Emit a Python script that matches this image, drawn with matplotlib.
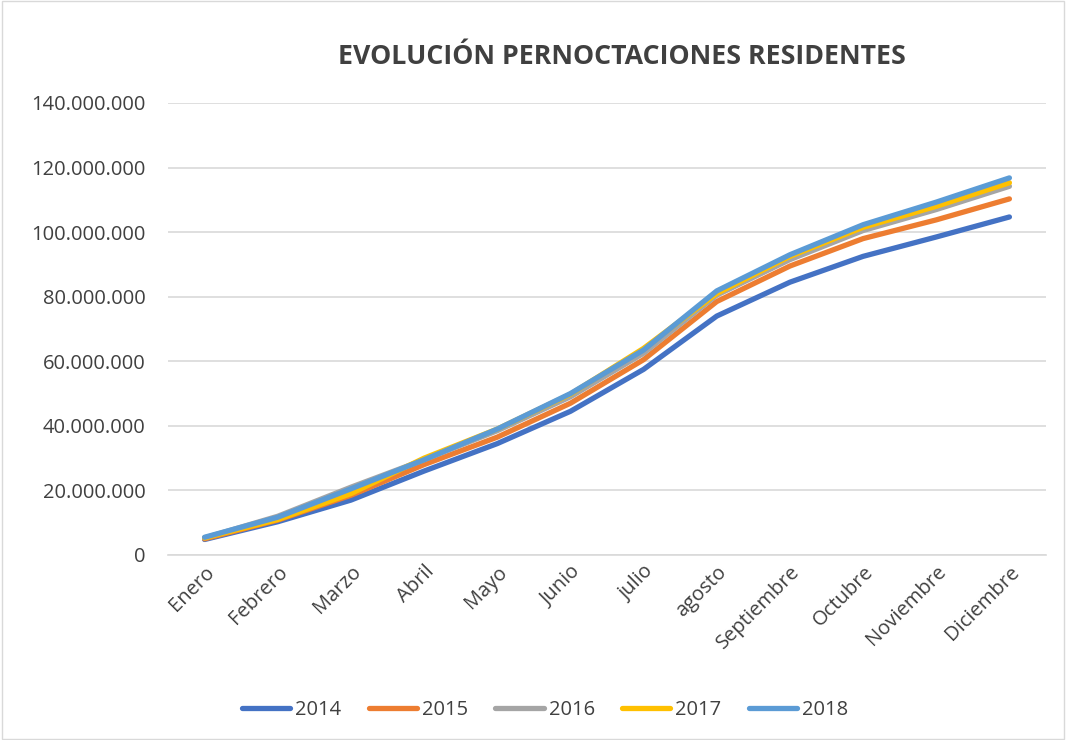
import matplotlib
matplotlib.use("Agg")
import matplotlib.pyplot as plt
from matplotlib.ticker import FuncFormatter

months = ["Enero", "Febrero", "Marzo", "Abril", "Mayo", "Junio", "julio",
          "agosto", "Septiembre", "Octubre", "Noviembre", "Diciembre"]
years = ["2014", "2015", "2016", "2017", "2018"]
s2014 = [4.8, 10.3, 17.0, 26.0, 34.5, 44.5, 57.5, 74.0, 84.5, 92.5, 98.5, 104.7]
s2015 = [5.0, 10.8, 18.5, 28.0, 36.5, 47.0, 60.5, 78.5, 89.5, 98.0, 103.8, 110.3]
s2016 = [5.3, 12.0, 21.0, 29.5, 38.5, 49.0, 62.5, 80.5, 91.5, 100.5, 107.0, 114.2]
s2017 = [5.3, 11.0, 19.0, 30.0, 39.0, 49.8, 64.0, 81.0, 92.5, 101.5, 108.0, 115.3]
s2018 = [5.5, 11.7, 20.5, 29.5, 39.0, 50.0, 63.5, 81.8, 93.0, 102.3, 109.3, 116.8]
series = [s2014, s2015, s2016, s2017, s2018]
colors = ["#4472C4", "#ED7D31", "#A5A5A5", "#FFC000", "#5B9BD5"]

plt.rcParams['font.family'] = ['Open Sans', 'DejaVu Sans']

fig = plt.figure(figsize=(10.66, 7.4), dpi=100)
ax = fig.add_axes([168/1066, 1-555/740, (1046-168)/1066, (555-103)/740])

x = list(range(len(months)))
for yr, vals, c in zip(years, series, colors):
    ax.plot(x, [v * 1e6 for v in vals], color=c, lw=3.8, label=yr,
            solid_capstyle='round', solid_joinstyle='round')

ax.set_xlim(-0.5, len(months) - 0.5)
ax.set_ylim(0, 140e6)
ax.set_yticks([i * 20e6 for i in range(8)])
ax.yaxis.set_major_formatter(FuncFormatter(lambda v, p: f"{int(v):,}".replace(",", ".")))
ax.grid(axis='y', color='#D9D9D9', lw=1.2)
ax.set_axisbelow(True)
for s in ['top', 'right', 'left']:
    ax.spines[s].set_visible(False)
ax.spines['bottom'].set_color('#D9D9D9')
ax.spines['bottom'].set_linewidth(1.2)
ax.tick_params(axis='both', length=0, labelsize=14.5, colors='#404040')
ax.tick_params(axis='y', pad=16)
ax.tick_params(axis='x', pad=5)
ax.set_xticks(x)
ax.set_xticklabels(months, rotation=45, ha='right', rotation_mode='anchor')

fig.text(622/1066, 1 - 57/740, "EVOLUCIÓN PERNOCTACIONES RESIDENTES", ha='center', va='center',
         fontsize=19.3, fontweight='bold', color='#404040')

fig.legend(loc='center', bbox_to_anchor=(545/1066, 1 - 710/740), ncol=5, frameon=False,
           fontsize=14.5, handlelength=2.4, columnspacing=1.35, handletextpad=0.25,
           labelcolor='#404040')

fig.patches.append(plt.Rectangle((0.002, 0.002), 0.996, 0.996, transform=fig.transFigure,
                                 fill=False, edgecolor='#D9D9D9', lw=1))
fig.savefig("out.png", dpi=100)
